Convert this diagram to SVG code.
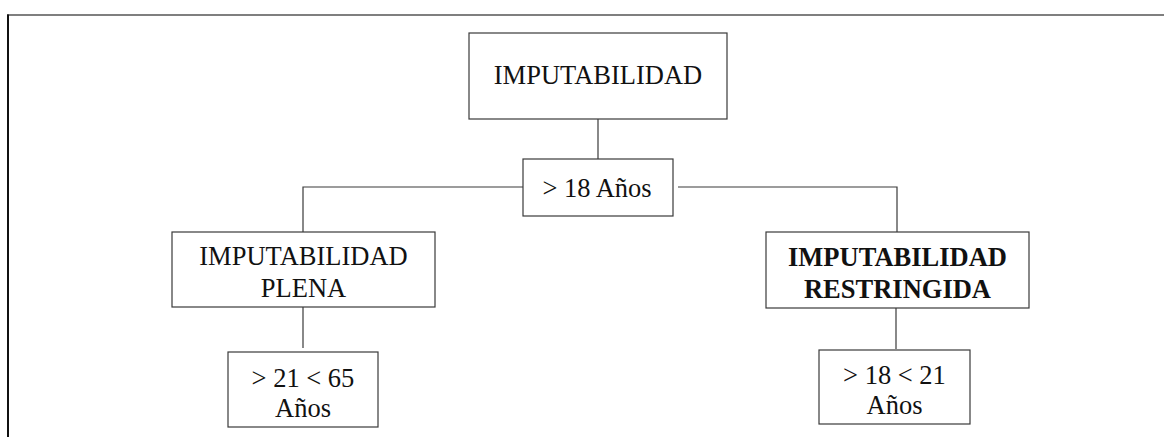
<svg xmlns="http://www.w3.org/2000/svg" width="1164" height="437" viewBox="0 0 1164 437">
  <style>
    .box { fill: #ffffff; stroke: #3a3a3a; stroke-width: 1.2; }
    .link { fill: none; stroke: #3a3a3a; stroke-width: 1.2; }
    .label { font-family: "Liberation Serif", "Times New Roman", serif; font-size: 26.5px; fill: #111111; text-anchor: middle; }
    .bold { font-weight: bold; }
  </style>

  <!-- page frame (top and left edges) -->
  <g id="frame">
    <line x1="7" y1="15" x2="1164" y2="15" stroke="#555555" stroke-width="1.6"/>
    <line x1="8" y1="14.5" x2="8" y2="437" stroke="#111111" stroke-width="2"/>
  </g>

  <!-- connectors -->
  <g id="connectors">
    <line class="link" x1="598" y1="119" x2="598" y2="159"/>
    <polyline class="link" points="303,232 303,187 523,187"/>
    <polyline class="link" points="678,187 897,187 897,232"/>
    <line class="link" x1="303" y1="307" x2="303" y2="348"/>
    <line class="link" x1="896" y1="308" x2="896" y2="349"/>
  </g>

  <g id="imputabilidad">
    <rect class="box" x="469" y="33" width="258" height="86"/>
    <text class="label" x="598" y="84">IMPUTABILIDAD</text>
  </g>

  <g id="mayor-18">
    <rect class="box" x="523" y="159" width="150" height="57"/>
    <text class="label" x="597" y="197">&gt; 18 Años</text>
  </g>

  <g id="imputabilidad-plena">
    <rect class="box" x="172" y="232" width="263" height="75"/>
    <text class="label" x="303.5" y="265">IMPUTABILIDAD</text>
    <text class="label" x="303.5" y="297">PLENA</text>
  </g>

  <g id="imputabilidad-restringida">
    <rect class="box" x="766" y="232" width="263" height="76"/>
    <text class="label bold" x="897.5" y="266">IMPUTABILIDAD</text>
    <text class="label bold" x="897.5" y="298">RESTRINGIDA</text>
  </g>

  <g id="rango-21-65">
    <rect class="box" x="228" y="352" width="150" height="75"/>
    <text class="label" x="303" y="387">&gt; 21 &lt; 65</text>
    <text class="label" x="303" y="417">Años</text>
  </g>

  <g id="rango-18-21">
    <rect class="box" x="819" y="350" width="151" height="74"/>
    <text class="label" x="894.5" y="384">&gt; 18 &lt; 21</text>
    <text class="label" x="894.5" y="414">Años</text>
  </g>
</svg>
